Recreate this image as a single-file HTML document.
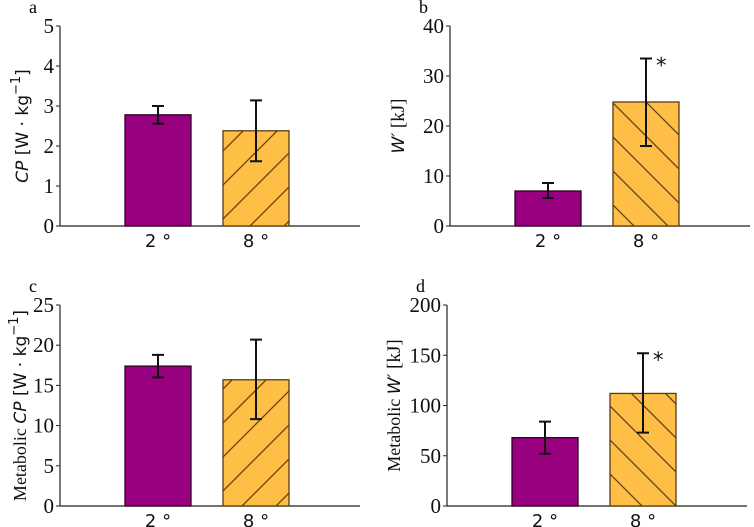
<!DOCTYPE html>
<html><head><meta charset="utf-8"><style>
html,body{margin:0;padding:0;background:#fff;}
svg{display:block;}
</style></head><body>
<svg id="chart" width="754" height="527" xmlns="http://www.w3.org/2000/svg">
<defs>
<pattern id="hatchF" patternUnits="userSpaceOnUse" width="34" height="34">
<rect width="34" height="34" fill="#ffbf47"/><path d="M-2,36 L36,-2 M-19,19 L19,-19 M15,53 L53,15" stroke="#5a3a10" stroke-width="1.2"/></pattern>
<pattern id="hatchB" patternUnits="userSpaceOnUse" width="34" height="34">
<rect width="34" height="34" fill="#ffbf47"/><path d="M-2,-2 L36,36 M-19,15 L19,53 M15,-19 L53,19" stroke="#5a3a10" stroke-width="1.2"/></pattern>
</defs>
</svg>
<script>
const categories = ["2 °", "8 °"];
const cpMeans = [2.78, 2.38];
const cpLow = [2.56, 1.62];
const cpHigh = [3.0, 3.14];
const wMeans = [7.0, 24.8];
const wLow = [5.6, 16.0];
const wHigh = [8.6, 33.5];
const mcpMeans = [17.4, 15.7];
const mcpLow = [16.0, 10.8];
const mcpHigh = [18.8, 20.7];
const mwMeans = [68, 112];
const mwLow = [52, 73];
const mwHigh = [84, 152];
const ticksA = [0,1,2,3,4,5];
const ticksB = [0,10,20,30,40];
const ticksC = [0,5,10,15,20,25];
const ticksD = [0,50,100,150,200];
const sigFlags = [[false,false],[false,true],[false,false],[false,true]];

const svg = document.getElementById('chart');
const NS = "http://www.w3.org/2000/svg";
function mk(tag, attrs, parent){const e=document.createElementNS(NS,tag);for(const k in attrs)e.setAttribute(k,attrs[k]);(parent||svg).appendChild(e);return e;}

const sup = '[W · kg<tspan dy="-8" font-size="13">−1</tspan><tspan dy="8">]</tspan>';
const kj = '<tspan font-family="Liberation Serif, serif" font-size="19"> [kJ]</tspan>';
const panels = [
 {id:'a', x0:60, y0:226, yTop:26, max:5, ticks:ticksA, means:cpMeans, low:cpLow, high:cpHigh, hatch:'hatchF', sig:sigFlags[0], tOff:32, label:'<tspan font-style="italic">CP</tspan> '+sup},
 {id:'b', x0:450, y0:226, yTop:26, max:40, ticks:ticksB, means:wMeans, low:wLow, high:wHigh, hatch:'hatchB', sig:sigFlags[1], tOff:46, label:'<tspan font-style="italic">W′</tspan>'+kj},
 {id:'c', x0:60, y0:506, yTop:305, max:25, ticks:ticksC, means:mcpMeans, low:mcpLow, high:mcpHigh, hatch:'hatchF', sig:sigFlags[2], tOff:34, label:'<tspan font-family="Liberation Serif, serif" font-size="18">Metabolic </tspan><tspan font-style="italic">CP</tspan> '+sup},
 {id:'d', x0:447, y0:506, yTop:305, max:200, ticks:ticksD, means:mwMeans, low:mwLow, high:mwHigh, hatch:'hatchB', sig:sigFlags[3], tOff:47, label:'<tspan font-family="Liberation Serif, serif" font-size="18">Metabolic </tspan><tspan font-style="italic">W′</tspan>'+kj}
];

panels.forEach(p=>{
  const g = mk('g',{});
  
  
  const yS = v => p.y0 - (v/p.max)*(p.y0-p.yTop);
  const barX = i => p.x0 + 65 + i*98;
  const bw = 66;
  const pl = mk('text',{x:p.x0-31,y:p.yTop-13,'font-family':'Liberation Serif, serif','font-size':18,fill:'#000'},g);
  pl.textContent = p.id;
  
  
  const ya = mk('line',{x1:p.x0,y1:p.yTop,x2:p.x0,y2:p.y0,stroke:'#222','stroke-width':1.2},g);
  
  
  const xa = mk('line',{x1:p.x0,y1:p.y0,x2:p.x0+300,y2:p.y0,stroke:'#222','stroke-width':1.2},g);
  
  
  p.ticks.forEach(t=>{
    const y=yS(t);
    const tk = mk('line',{x1:p.x0-4,y1:y,x2:p.x0,y2:y,stroke:'#222'},g);
    
    
    const tl = mk('text',{x:p.x0-6,y:y+7,'text-anchor':'end','font-family':'Liberation Serif, serif','font-size':21,fill:'#111'},g);
    tl.textContent=t;
    
    
  });
  const yl = mk('text',{transform:`translate(${p.x0-p.tOff},${(p.y0+p.yTop)/2}) rotate(-90)`,'text-anchor':'middle','font-family':'DejaVu Sans, Liberation Sans, sans-serif','font-size':17,fill:'#111'},g);
  yl.innerHTML = p.label;
  
  
  categories.forEach((c,i)=>{
    const x=barX(i), y=yS(p.means[i]);
    const r = mk('rect',{x:x,y:y,width:bw,height:p.y0-y,fill:i===0?'#990080':'url(#'+p.hatch+')',stroke:i===0?'#2a0022':'#5a3a10','stroke-width':1.3},g);
    
    
    const cx=x+bw/2, yl1=yS(p.low[i]), yh=yS(p.high[i]);
    const eb = mk('path',{d:`M${cx},${yl1}V${yh}M${cx-6},${yl1}H${cx+6}M${cx-6},${yh}H${cx+6}`,stroke:'#111','stroke-width':2,fill:'none'},g);
    
    
    if(p.sig[i]){
      const s = mk('text',{x:cx+10,y:yh+14,'font-family':'DejaVu Sans, sans-serif','font-size':21,fill:'#111'},g);
      s.textContent='*';
      
      
    }
    const xl = mk('text',{x:cx,y:p.y0+21,'text-anchor':'middle','font-family':'DejaVu Sans, sans-serif','font-size':18,fill:'#111'},g);
    xl.textContent=c;
    
    
  });
});
</script>
</body></html>
